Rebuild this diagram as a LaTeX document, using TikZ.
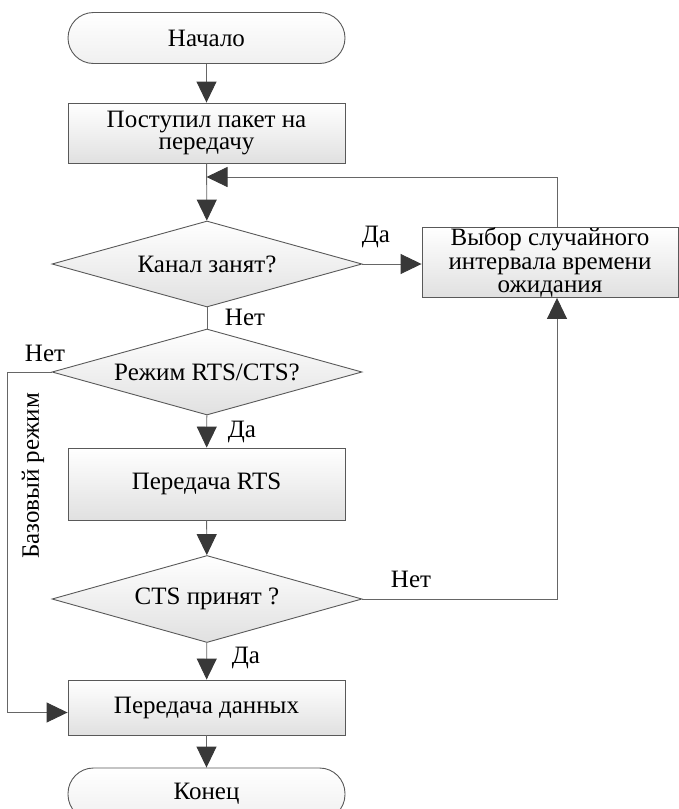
\documentclass[tikz,border=0pt]{standalone}
\usepackage{fontspec}
\setmainfont{Liberation Serif}
\usetikzlibrary{shapes.geometric,arrows.meta}
\begin{document}
\begin{tikzpicture}[x=1pt,y=-1pt,
  every node/.style={font=\fontsize{25}{22.5}\selectfont},
  shaded/.style={draw=black!65, line width=0.9pt, top color=white, bottom color=black!12,
    align=center, inner sep=0pt},
  blockbox/.style={shaded, rectangle, minimum width=277pt},
  termbox/.style={shaded, rectangle, rounded corners=25.5pt, minimum width=277pt,
    minimum height=51pt, top color=white, bottom color=black!6},
  decision/.style={shaded, diamond, minimum width=310pt, minimum height=86pt, aspect=3.6},
  flow/.style={draw=black!60, line width=0.9pt,
    -{Triangle[length=21pt,width=20pt,color=black!78]}},
  plain/.style={draw=black!60, line width=0.9pt},
  lbl/.style={inner sep=0pt}
]
\useasboundingbox (0,0) rectangle (679,809);

% blocks
\node[termbox] (start) at (206.5,38) {Начало};
\node[blockbox, minimum height=60pt] (recv) at (206.5,133) {Поступил пакет на\\передачу};
\node[decision] (busy) at (207,264) {Канал занят?};
\node[shaded, rectangle, minimum width=256pt, minimum height=70pt,
  font=\fontsize{25}{23.6}\selectfont] (backoff) at (550,262.5)
  {Выбор случайного\\интервала времени\\ожидания};
\node[decision] (mode) at (207,372) {Режим RTS/CTS?};
\node[blockbox, minimum height=72pt] (rts) at (206.5,484) {Передача RTS};
\node[decision, minimum height=87pt] (cts) at (207,599) {CTS принят ?};
\node[blockbox, minimum height=55pt] (data) at (206.5,707.5) {Передача данных};
\node[termbox, minimum height=52pt] (stop) at (206.5,794) {Конец};

% junction where the retry loop joins the main flow
\coordinate (join) at (206.5,177);

% connectors
\draw[flow] (start) -- (recv);
\draw[flow] (recv) -- (busy);
\draw[flow] ([xshift=7pt]backoff.north) |- (join);
\draw[flow] (busy.east) -- (backoff.west |- busy.east);
\draw[plain] (busy.south) -- (mode.north);
\draw[flow] (mode) -- (rts);
\draw[flow] (rts) -- (cts);
\draw[flow] (cts) -- (data);
\draw[flow] (data) -- (stop);
\draw[flow] (cts.east) -| ([xshift=7pt]backoff.south);
\draw[flow] (mode.west) -- ++(-44,0) |- ([yshift=-5pt]data.west);

% branch labels
\node[lbl] (l1) at (376,237) {Да};
\node[lbl] (l2) at (245,317) {Нет};
\node[lbl] (l3) at (45,353) {Нет};
\node[lbl] (l4) at (242,432) {Да};
\node[lbl] (l5) at (411,579) {Нет};
\node[lbl] (l6) at (246,658) {Да};
\node[lbl, rotate=90] (l7) at (33,476) {Базовый режим};
\end{tikzpicture}
\end{document}
